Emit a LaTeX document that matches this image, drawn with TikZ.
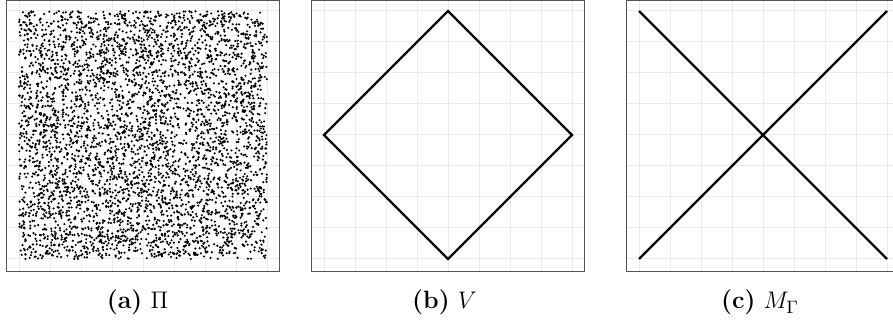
\documentclass[tikz,border=0pt]{standalone}
\definecolor{gridgray}{HTML}{EBEBEB}
\definecolor{framegray}{HTML}{555555}

\begin{document}
\begin{tikzpicture}[x=0.5pt,y=0.5pt,
  panel/.style={x=124pt,y=124pt},
  gridline/.style={gridgray,line width=0.5pt},
  frameline/.style={framegray,line width=0.6pt},
  curve/.style={line width=1.2pt},
  subcap/.style={anchor=base,font=\fontsize{12.5}{15}\selectfont}]
\useasboundingbox (0,0) rectangle (893,331);
\clip (0,0) rectangle (893,331);
% (a) sample points
\begin{scope}[shift={(19,72)},panel]
\foreach \k in {0,...,8} {\draw[gridline] (\k/8,-0.05)--(\k/8,1.05); \draw[gridline] (-0.05,\k/8)--(1.05,\k/8);}
\pgfmathsetseed{2718}
\foreach \i in {1,...,4500} {\fill ({rnd},{rnd}) circle[radius=0.6pt];}
\draw[frameline] (-0.05,-0.05) rectangle (1.05,1.043);
\end{scope}
% (b) diamond
\begin{scope}[shift={(324,72)},panel]
\foreach \k in {0,...,8} {\draw[gridline] (\k/8,-0.05)--(\k/8,1.05); \draw[gridline] (-0.05,\k/8)--(1.05,\k/8);}
\draw[curve] (0.5,1)--(1,0.5)--(0.5,0)--(0,0.5)--cycle;
\draw[frameline] (-0.05,-0.05) rectangle (1.05,1.043);
\end{scope}
% (c) cross
\begin{scope}[shift={(639,72)},panel]
\foreach \k in {0,...,8} {\draw[gridline] (\k/8,-0.05)--(\k/8,1.05); \draw[gridline] (-0.05,\k/8)--(1.05,\k/8);}
\draw[curve] (0,0)--(1,1) (0,1)--(1,0);
\draw[frameline] (-0.05,-0.05) rectangle (1.05,1.043);
\end{scope}
\node[subcap] (capa) at (137.5,22) {\textbf{(a)} $\Pi$};
\node[subcap] (capb) at (444.5,22) {\textbf{(b)} $V$};
\node[subcap] (capc) at (760,22) {\textbf{(c)} $M_\Gamma$};
\end{tikzpicture}
\end{document}
